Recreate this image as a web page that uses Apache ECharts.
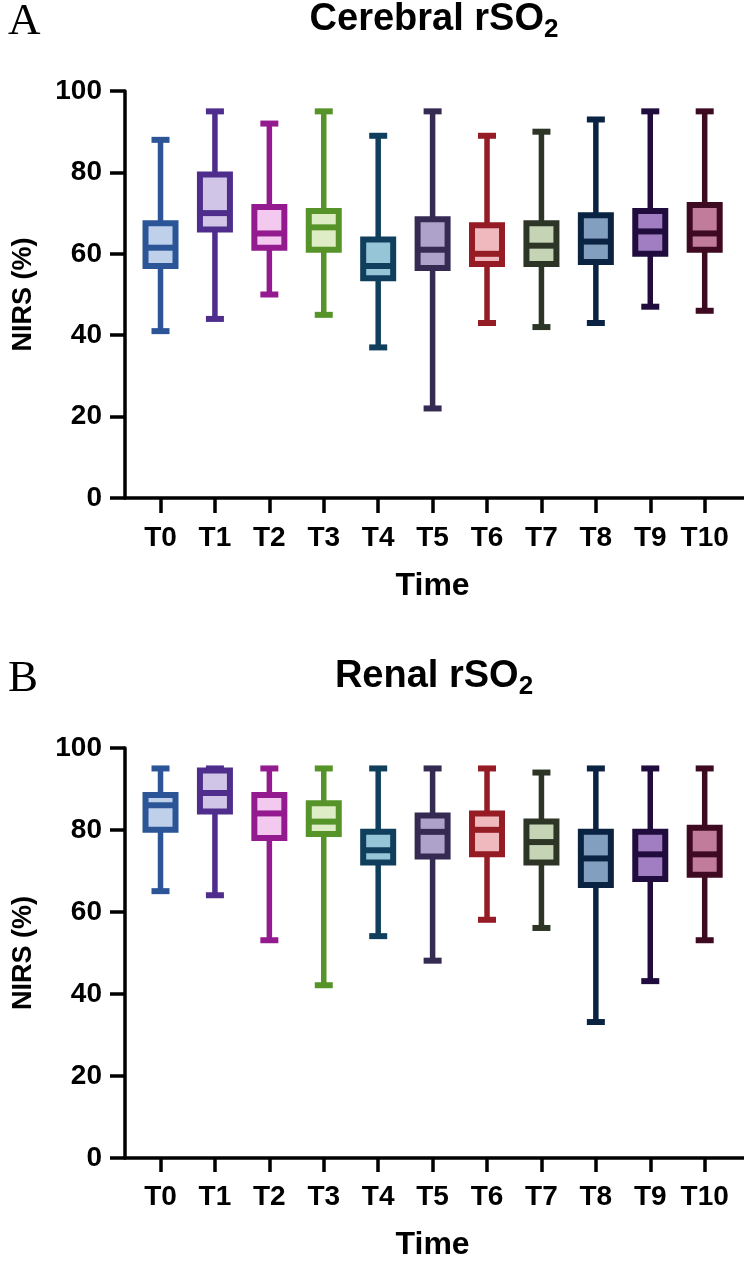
<!DOCTYPE html>
<html>
<head>
<meta charset="utf-8">
<script src="https://cdn.jsdelivr.net/npm/echarts@6/dist/echarts.min.js"></script>
<style>
html,body{margin:0;padding:0;background:#fff;}
#chart{width:744px;height:1262px;}
</style>
</head>
<body>
<div id="chart"></div>
<script>
// ---- data ----
const categories = ['T0','T1','T2','T3','T4','T5','T6','T7','T8','T9','T10'];
const yTicks = [0, 20, 40, 60, 80, 100];

const cerebralMin    = [41, 44, 50, 45, 37, 22, 43, 42, 43, 47, 46];
const cerebralQ1     = [57, 66, 61.5, 61, 54, 56.5, 57.5, 57.5, 58, 60, 61];
const cerebralMedian = [61.5, 70, 65, 66.5, 57, 61, 60, 62, 63, 65.5, 65];
const cerebralQ3     = [67.5, 79.5, 71.5, 70.5, 63.5, 68.5, 67, 67.5, 69.5, 70.5, 72];
const cerebralMax    = [88, 95, 92, 95, 89, 95, 89, 90, 93, 95, 95];

const renalMin    = [65, 64, 53, 42, 54, 48, 58, 56, 33, 43, 53];
const renalQ1     = [80, 84.5, 78, 79, 72, 73.5, 74, 72, 66.5, 68, 69];
const renalMedian = [86, 89, 84, 82, 75, 79.5, 80, 77, 73, 74, 74];
const renalQ3     = [88.5, 94.5, 88.5, 86.5, 79.5, 83.5, 84, 82, 79.5, 79.5, 80.5];
const renalMax    = [95, 95, 95, 95, 95, 95, 95, 94, 95, 95, 95];

const borderColors = ['#2B5597','#4F2D8C','#931B8F','#56942A','#0F3F5C','#342A52','#951B24','#2D3527','#0B2342','#210C3E','#3D0A22'];
const fillColors   = ['#BED0EA','#D0C5E7','#F3C9F0','#DEEDC5','#97C5D8','#AFA2C9','#EFB9BE','#C6D4B6','#829FBF','#A17DC1','#C27C9B'];

// ---- helpers ----
const FONT = "'Liberation Sans', Arial, Helvetica, sans-serif";
function rows(mn, q1, md, q3, mx) {
  return categories.map((c, i) => [i, mn[i], q1[i], md[i], q3[i], mx[i]]);
}
function renderBox(params, api) {
  const i = params.dataIndex;
  const pMin = api.coord([api.value(0), api.value(1)]);
  const pQ1  = api.coord([api.value(0), api.value(2)]);
  const pMed = api.coord([api.value(0), api.value(3)]);
  const pQ3  = api.coord([api.value(0), api.value(4)]);
  const pMax = api.coord([api.value(0), api.value(5)]);
  const x = pMin[0];
  const hw = 15, cw = 9;
  const bc = borderColors[i], fc = fillColors[i];
  return {
    type: 'group',
    children: [
      {type:'line', shape:{x1:x, y1:pMax[1], x2:x, y2:pQ3[1]}, style:{stroke:bc, lineWidth:5.5}},
      {type:'line', shape:{x1:x, y1:pQ1[1], x2:x, y2:pMin[1]}, style:{stroke:bc, lineWidth:5.5}},
      {type:'line', shape:{x1:x-cw, y1:pMax[1], x2:x+cw, y2:pMax[1]}, style:{stroke:bc, lineWidth:6}},
      {type:'line', shape:{x1:x-cw, y1:pMin[1], x2:x+cw, y2:pMin[1]}, style:{stroke:bc, lineWidth:6}},
      {type:'rect', shape:{x:x-hw, y:pQ3[1], width:2*hw, height:pQ1[1]-pQ3[1]}, style:{fill:fc, stroke:bc, lineWidth:6}},
      {type:'line', shape:{x1:x-hw, y1:pMed[1], x2:x+hw, y2:pMed[1]}, style:{stroke:bc, lineWidth:6}}
    ]
  };
}

const panels = [
  {top: 91, height: 407, title: 'Cerebral rSO', letter: 'A', data: rows(cerebralMin, cerebralQ1, cerebralMedian, cerebralQ3, cerebralMax)},
  {top: 748, height: 410, title: 'Renal rSO', letter: 'B', data: rows(renalMin, renalQ1, renalMedian, renalQ3, renalMax)}
];

const grid = [], xAxis = [], yAxis = [], series = [], graphic = [];
panels.forEach((p, k) => {
  const ga = grid.length;
  grid.push({left: 125, right: 0, top: p.top, height: p.height});
  grid.push({left: 133.3, width: 598.6, top: p.top, height: p.height});
  // frame axes
  xAxis.push({gridIndex: ga, type: 'value', min: 0, max: 1,
    axisLine: {show: true, lineStyle: {color: '#000', width: 3.5}},
    axisTick: {show: false}, axisLabel: {show: false}, splitLine: {show: false}});
  yAxis.push({gridIndex: ga, type: 'value', min: yTicks[0], max: yTicks[yTicks.length-1], interval: 20,
    axisLine: {show: true, lineStyle: {color: '#000', width: 3.5}},
    axisTick: {show: true, length: 15, lineStyle: {color: '#000', width: 3.5}},
    axisLabel: {color: '#000', fontSize: 28, fontWeight: 'bold', fontFamily: FONT, margin: 23},
    splitLine: {show: false},
    name: 'NIRS (%)', nameLocation: 'middle', nameRotate: 90, nameGap: 88,
    nameTextStyle: {color: '#000', fontSize: 27, fontWeight: 'bold', fontFamily: FONT}});
  // category axes
  xAxis.push({gridIndex: ga + 1, type: 'category', data: categories, boundaryGap: true,
    axisLine: {show: false},
    axisTick: {show: true, alignWithLabel: true, length: 15, lineStyle: {color: '#000', width: 3.5}},
    axisLabel: {color: '#000', fontSize: 28, fontWeight: 'bold', fontFamily: FONT, margin: 26, interval: 0},
    name: 'Time', nameLocation: 'middle', nameGap: 72,
    nameTextStyle: {color: '#000', fontSize: 32, fontWeight: 'bold', fontFamily: FONT}});
  yAxis.push({gridIndex: ga + 1, type: 'value', min: 0, max: 100, show: false});
  series.push({type: 'custom', xAxisIndex: ga + 1, yAxisIndex: ga + 1, renderItem: renderBox,
    encode: {x: 0, y: [1, 2, 3, 4, 5]}, data: p.data, animation: false});
  const off = k * 657;
  graphic.push({type: 'text', x: 434, y: off - 3, style: {
    text: '{a|' + p.title + '}{s|2}', textAlign: 'center', textVerticalAlign: 'top',
    rich: {
      a: {fontSize: 38, lineHeight: 46, fontWeight: 'bold', fontFamily: FONT, fill: '#000'},
      s: {fontSize: 26, lineHeight: 22, verticalAlign: 'bottom', fontWeight: 'bold', fontFamily: FONT, fill: '#000'}
    }}});
  graphic.push({type: 'text', x: 8, y: off, style: {
    text: p.letter, fontSize: 45, fontFamily: "'Liberation Serif', 'Times New Roman', serif", fill: '#000',
    textVerticalAlign: 'top'}});
});

const chart = echarts.init(document.getElementById('chart'), null, {renderer: 'canvas'});
chart.setOption({animation: false, backgroundColor: '#fff', grid, xAxis, yAxis, series, graphic});
</script>
</body>
</html>
